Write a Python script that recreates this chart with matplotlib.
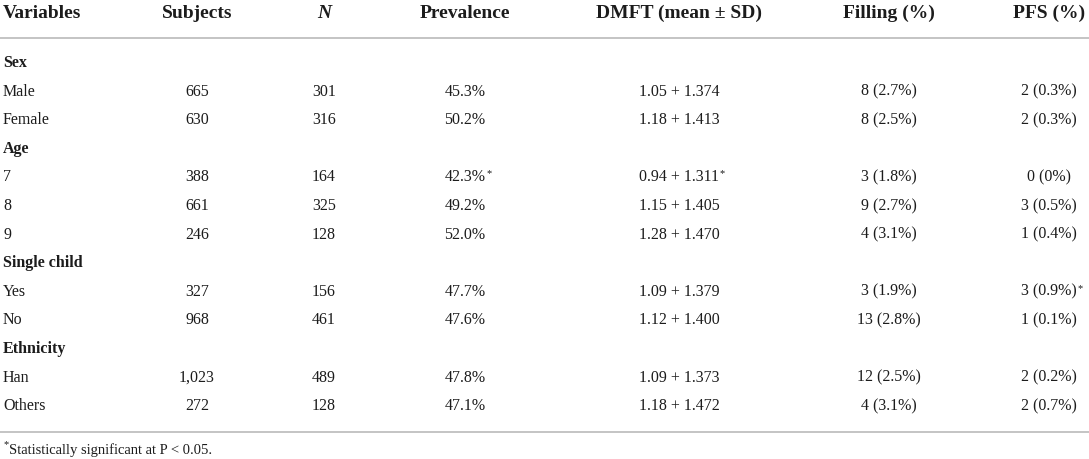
import matplotlib.pyplot as plt

plt.rcParams['font.family'] = ['Liberation Serif', 'DejaVu Serif']

# table content
headers = ["Variables", "Subjects", "N", "Prevalence", "DMFT (mean \u00b1 SD)", "Filling (%)", "PFS (%)"]
groups = ["Sex", "Age", "Single child", "Ethnicity"]
group_rows = [["Male", "Female"], ["7", "8", "9"], ["Yes", "No"], ["Han", "Others"]]
subjects = ["665", "630", "388", "661", "246", "327", "968", "1,023", "272"]
n_vals = ["301", "316", "164", "325", "128", "156", "461", "489", "128"]
prevalence = ["45.3%", "50.2%", "42.3%*", "49.2%", "52.0%", "47.7%", "47.6%", "47.8%", "47.1%"]
dmft = ["1.05 + 1.374", "1.18 + 1.413", "0.94 + 1.311*", "1.15 + 1.405", "1.28 + 1.470",
        "1.09 + 1.379", "1.12 + 1.400", "1.09 + 1.373", "1.18 + 1.472"]
filling = ["8 (2.7%)", "8 (2.5%)", "3 (1.8%)", "9 (2.7%)", "4 (3.1%)",
           "3 (1.9%)", "13 (2.8%)", "12 (2.5%)", "4 (3.1%)"]
pfs = ["2 (0.3%)", "2 (0.3%)", "0 (0%)", "3 (0.5%)", "1 (0.4%)",
       "3 (0.9%)*", "1 (0.1%)", "2 (0.2%)", "2 (0.7%)"]
footnote = "Statistically significant at P < 0.05."

W, H = 1089, 460
col_x = [3, 197, 324, 465, 679, 889, 1049]
first_row_y = 63
row_step = 28.6
txt = "#1c1c1c"
rule_col = "#c4c4c4"

fig = plt.figure(figsize=(W / 100, H / 100), dpi=100)
ax = fig.add_axes([0, 0, 1, 1])
ax.set_xlim(0, W)
ax.set_ylim(H, 0)
ax.axis("off")


def cell(x, y, s, ha="center", size=11.5, weight="normal"):
    star = s.endswith("*")
    if star:
        s = s[:-1]
    t = ax.text(x, y + 4, s, ha=ha, va="baseline", fontsize=size,
                fontweight=weight, color=txt)
    if star:
        ax.annotate("*", xy=(1, 1), xycoords=t, xytext=(0.5, 0),
                    textcoords="offset points", ha="left", va="top",
                    fontsize=7.5, color=txt)
    return t


# header
for i, h in enumerate(headers):
    ha = "left" if i == 0 else "center"
    style = "italic" if h == "N" else "normal"
    ax.text(col_x[i], 17.5, h, ha=ha, va="baseline", fontsize=14,
            fontweight="bold", fontstyle=style, color=txt)

ax.plot([0, W], [39, 39], color=rule_col, lw=1.4, solid_capstyle="butt")

# body
y = first_row_y
k = 0
for g, rows in zip(groups, group_rows):
    cell(col_x[0], y, g, ha="left", weight="bold")
    y += row_step
    for r in rows:
        cell(col_x[0], y, r, ha="left")
        vals = [subjects[k], n_vals[k], prevalence[k], dmft[k], filling[k], pfs[k]]
        for j, v in enumerate(vals):
            cell(col_x[j + 1], y, v)
        k += 1
        y += row_step

ax.plot([0, W], [433, 433], color=rule_col, lw=1.4, solid_capstyle="butt")

# footnote
st = ax.text(3, 447, "*", ha="left", va="baseline", fontsize=7.5, color=txt)
ax.annotate(footnote, xy=(1, 0), xycoords=st, xytext=(0.5, -3.5),
            textcoords="offset points", ha="left", va="baseline",
            fontsize=10.5, color=txt)

fig.savefig("out.png", dpi=100)
